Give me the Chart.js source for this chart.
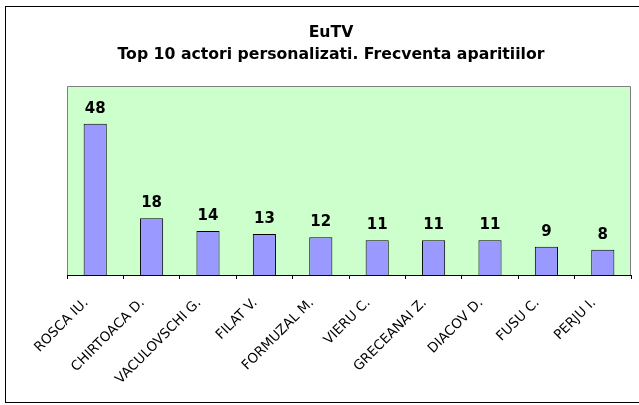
<!DOCTYPE html>
<html>
<head>
<meta charset="utf-8">
<script src="https://cdn.jsdelivr.net/npm/chart.js@4"></script>
<style>
  body { margin: 0; background: #fff; }
  #wrap { width: 639px; height: 405px; position: relative; }
</style>
</head>
<body>
<div id="wrap"><canvas id="myBarChart" width="639" height="405"></canvas></div>
<script>
// categories and values
const actors = [
  "ROSCA IU.",
  "CHIRTOACA D.",
  "VACULOVSCHI G.",
  "FILAT V.",
  "FORMUZAL M.",
  "VIERU C.",
  "GRECEANAI Z.",
  "DIACOV D.",
  "FUSU C.",
  "PERJU I.",
];
const appearances = [48, 18, 14, 13, 12, 11, 11, 11, 9, 8];
const titleLines = ["EuTV", "Top 10 actori personalizati. Frecventa aparitiilor"];

// frame round the whole thing, green plot area, title centred on the frame
const framePlugin = {
  id: "frame",
  beforeDraw(chart) {
    const ctx = chart.ctx;
    const a = chart.chartArea;
    ctx.save();
    ctx.strokeStyle = "#000";
    ctx.lineWidth = 1;
    ctx.strokeRect(5.5, 6.5, 660, 396);
    ctx.fillStyle = "#CCFFCC";
    ctx.fillRect(a.left, a.top, a.right - a.left, a.bottom - a.top);
    ctx.strokeStyle = "#808080";
    ctx.beginPath();
    ctx.moveTo(a.left + 0.5, a.bottom);
    ctx.lineTo(a.left + 0.5, a.top + 0.5);
    ctx.lineTo(a.right - 0.5, a.top + 0.5);
    ctx.lineTo(a.right - 0.5, a.bottom);
    ctx.stroke();

    ctx.fillStyle = "#000";
    ctx.font = "bold 15.7px 'DejaVu Sans'";
    ctx.textAlign = "center";
    ctx.textBaseline = "middle";
    ctx.fillText(titleLines[0], 331, 32.5);
    ctx.fillText(titleLines[1], 331, 54.5);
    ctx.restore();
  },
};

// value on top of each bar
const valuePlugin = {
  id: "values",
  afterDatasetsDraw(chart) {
    const ctx = chart.ctx;
    const meta = chart.getDatasetMeta(0);
    ctx.save();
    ctx.font = "bold 15px 'DejaVu Sans'";
    ctx.fillStyle = "#000";
    ctx.textAlign = "center";
    ctx.textBaseline = "middle";
    meta.data.forEach((bar, i) => {
      ctx.fillText(appearances[i], bar.x, bar.y - 15);
    });
    ctx.restore();
  },
};

let myBarChart = new Chart("myBarChart", {
  type: "bar",
  data: {
    labels: actors,
    datasets: [
      {
        data: appearances,
        backgroundColor: "#9999FF",
        borderColor: "#000",
        borderWidth: 1,
        barPercentage: 0.41,
        categoryPercentage: 1,
      },
    ],
  },
  options: {
    responsive: false,
    animation: false,
    layout: {
      padding: { left: 67, right: 8, top: 86, bottom: 6 },
    },
    plugins: {
      legend: { display: false },
      tooltip: { enabled: false },
      title: { display: false },
    },
    scales: {
      y: {
        display: false,
        min: 0,
        max: 60,
      },
      x: {
        grid: {
          display: true,
          drawOnChartArea: false,
          drawTicks: true,
          tickLength: 4,
          offset: true,
          color: "#000",
        },
        border: { color: "#000", width: 1 },
        ticks: {
          minRotation: 45,
          maxRotation: 45,
          autoSkip: false,
          color: "#000",
          font: { family: "'DejaVu Sans'", size: 13.5 },
          padding: 16,
          labelOffset: -9,
        },
        afterFit(scale) {
          scale.height = 124;
        },
      },
    },
  },
  plugins: [framePlugin, valuePlugin],
});
</script>
</body>
</html>
